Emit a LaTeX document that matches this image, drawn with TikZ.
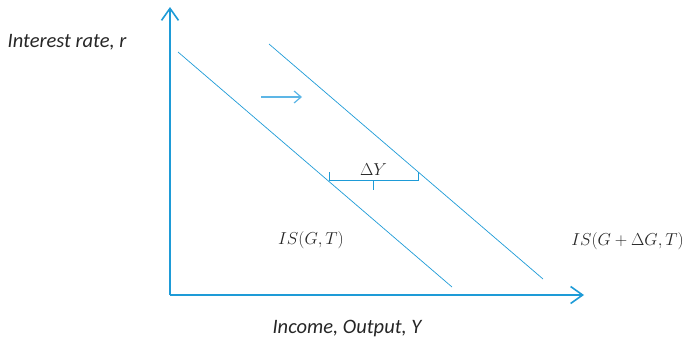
\documentclass[tikz,border=0pt]{standalone}
\usepackage{fontspec}
\setmainfont{Carlito}
\definecolor{isBlue}{HTML}{1E9BD7}
\definecolor{isLight}{HTML}{5DB6E6}
\usetikzlibrary{arrows.meta, positioning, calc}

\begin{document}
\begin{tikzpicture}[x=1pt, y=-1pt,
  axis/.style={draw=isBlue, line width=1.8pt, -{Straight Barb[length=12pt, width=17pt, line width=1.6pt]}},
  curve/.style={draw=isBlue, line width=0.7pt},
  movearrow/.style={draw=isLight, line width=1.4pt, -{Straight Barb[length=7pt, width=12pt, line width=1.2pt]}},
  axlabel/.style={font=\fontsize{20.5}{24}\selectfont\itshape, text=black!85},
  islabel/.style={font=\fontsize{19}{22}\selectfont, text=black!85}]

  \useasboundingbox (0,0) rectangle (685,343);

  % axes
  \coordinate (o) at (170,295);
  \coordinate (ytop) at (170,7);
  \coordinate (xend) at (584,295);
  \draw[axis] (o) -- (ytop);
  \draw[axis] (o) -- (xend);

  % IS curves
  \coordinate (is1a) at (178,52);
  \coordinate (is1b) at (452,287);
  \coordinate (is2a) at (269,44);
  \coordinate (is2b) at (543,279);
  \draw[curve] (is1a) -- (is1b);
  \draw[curve] (is2a) -- (is2b);

  % shift of the curve
  \coordinate (sh1) at (261,97);
  \coordinate (sh2) at (302,97);
  \draw[movearrow] (sh1) -- (sh2);

  % brace for Delta Y
  \coordinate (bl) at (329,180);
  \coordinate (br) at (418,180);
  \coordinate (bm) at ($(bl)!0.5!(br)$);
  \draw[curve, line width=0.9pt] ($(bl)+(0,-8)$) -- (bl) -- (br) -- ($(br)+(0,-8)$);
  \draw[curve, line width=0.9pt] (bm) -- ($(bm)+(0,10)$);
  \node[islabel, above=1pt of bm] (dy) {$\Delta Y$};

  % labels
  \node[axlabel] (rlab) at (67,42) {Interest rate, r};
  \node[axlabel] (ylab) at (347,328) {Income, Output, Y};
  \node[islabel] (is1) at (311,240) {$IS(G,T)$};
  \node[islabel, anchor=east, inner xsep=0pt] (is2) at (684,241) {$IS(G+\Delta G,T)$};
\end{tikzpicture}
\end{document}
